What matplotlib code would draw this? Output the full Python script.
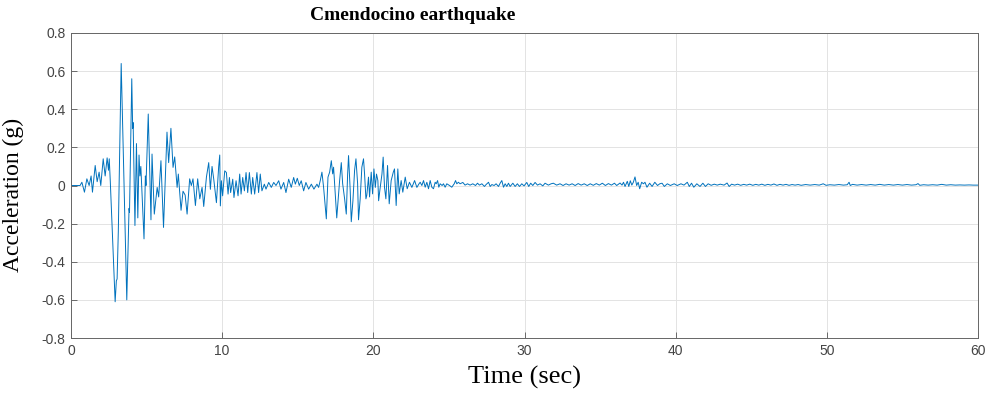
import numpy as np
import matplotlib
matplotlib.use("Agg")
import matplotlib.pyplot as plt

# ---- data (time in s, acceleration in g) ----
t_strong = [0.0, 0.6, 0.72, 0.89, 1.05, 1.20, 1.33, 1.42, 1.60, 1.73, 1.86, 1.97, 2.13, 2.26,
            2.39, 2.48, 2.53, 2.60, 2.92, 3.00, 3.05, 3.13, 3.32, 3.69, 3.84, 3.87, 4.02, 4.08,
            4.11, 4.23, 4.33, 4.42, 4.50, 4.56, 4.62, 4.83, 4.92, 4.96, 5.11, 5.29, 5.36, 5.51,
            5.70, 5.80, 5.95, 6.12, 6.35, 6.46, 6.61, 6.75, 6.86, 7.02, 7.10, 7.28, 7.41, 7.55,
            7.68, 7.85, 7.96, 8.07, 8.23, 8.38, 8.52, 8.67, 8.78, 8.96, 9.11, 9.22, 9.33, 9.44,
            9.62, 9.77, 9.84, 9.88, 9.95]
a_strong = [0.0, 0.0, 0.017, -0.035, 0.035, 0.0, 0.05, -0.035, 0.105, 0.02, 0.07, 0.0, 0.14, 0.05,
            0.145, 0.08, 0.14, 0.02, -0.61, -0.50, -0.49, -0.24, 0.64, -0.60, -0.12, -0.14, 0.56, 0.30,
            0.33, -0.21, 0.22, -0.17, 0.16, 0.05, 0.10, -0.28, 0.05, 0.0, 0.375, -0.18, 0.165, -0.15,
            -0.01, -0.06, 0.13, -0.22, 0.28, 0.12, 0.30, 0.095, 0.15, -0.01, 0.06, -0.13, -0.03, -0.05,
            -0.15, 0.035, 0.0, 0.035, -0.105, 0.035, -0.07, -0.01, -0.11, 0.045, 0.12, -0.02, 0.10, 0.035,
            -0.09, 0.10, 0.16, -0.107, 0.025]

t_mid = [10.03, 10.17, 10.28, 10.39, 10.48, 10.56, 10.70, 10.78, 10.92, 11.05, 11.16, 11.25, 11.36,
         11.47, 11.58, 11.69, 11.80, 11.93, 12.02, 12.15, 12.30, 12.41, 12.52, 12.63, 12.79, 12.90,
         13.08, 13.25, 13.41, 13.56, 13.74, 13.89, 14.07, 14.22, 14.40, 14.57, 14.73, 14.84, 14.97,
         15.10, 15.23, 15.39, 15.54, 15.72, 15.90, 16.07, 16.27, 16.38, 16.49, 16.60, 16.71, 16.89,
         17.00, 17.11, 17.22, 17.31, 17.37, 17.58, 17.77, 17.88, 17.97, 18.10, 18.21, 18.30, 18.36,
         18.47, 18.54, 18.65, 18.76, 18.85, 18.96, 19.02, 19.13, 19.24, 19.35, 19.42, 19.51, 19.57,
         19.68, 19.75, 19.86, 19.95, 20.04, 20.13, 20.21, 20.30, 20.35, 20.43, 20.57, 20.65, 20.74,
         20.83, 20.94, 21.05, 21.18, 21.32, 21.40, 21.51, 21.62, 21.71, 21.84, 21.95, 22.11, 22.24,
         22.39, 22.55, 22.73, 22.88, 23.03]
a_mid = [-0.054, 0.077, 0.068, -0.045, 0.042, -0.037, 0.033, -0.063, 0.025, -0.054, 0.06, -0.045, 0.042,
         -0.028, 0.068, -0.037, 0.068, -0.045, 0.042, -0.045, 0.068, -0.037, 0.06, -0.028, 0.007, -0.019,
         0.016, -0.01, 0.016, 0.0, 0.025, -0.019, 0.016, -0.037, 0.033, -0.01, 0.042, 0.007, 0.038,
         0.0, 0.025, -0.028, 0.016, -0.019, 0.007, -0.019, 0.007, -0.01, 0.026, 0.07, -0.01, -0.175,
         0.044, 0.07, 0.13, 0.061, 0.096, -0.17, 0.026, 0.12, 0.01, -0.07, -0.15, 0.06, 0.157,
         -0.026, -0.19, -0.08, 0.08, 0.14, 0.01, -0.18, -0.07, 0.096, 0.14, 0.06, -0.07, -0.05,
         0.044, -0.06, 0.07, -0.044, 0.087, -0.01, 0.06, 0.026, -0.08, -0.026, 0.06, 0.149, -0.01,
         -0.07, 0.105, -0.096, 0.026, 0.07, 0.087, -0.105, 0.087, -0.044, 0.026, -0.035, 0.044, -0.017,
         0.017, -0.01, 0.026, -0.01, 0.01]

t_coda = [23.10, 23.21, 23.32, 23.43, 23.54, 23.65, 23.76, 23.87, 23.98, 24.09, 24.16, 24.25, 24.33,
          24.42, 24.55, 24.64, 24.75, 24.86, 25.04, 25.19, 25.35, 25.44, 25.52, 25.63, 25.74, 25.92,
          26.07, 26.23, 26.40, 26.58, 26.76, 26.89, 27.02, 27.18, 27.35, 27.46, 27.62, 27.73, 27.84,
          27.99, 28.12, 28.28, 28.39, 28.50, 28.61, 28.72, 28.83, 28.94, 29.05, 29.23, 29.38, 29.53,
          29.67, 29.82, 29.97, 30.15, 30.28, 30.41, 30.55, 30.70, 30.86, 31.03, 31.21, 31.36, 31.58,
          31.76, 31.91, 32.13, 32.35, 32.55, 32.75, 32.95, 33.15, 33.35, 33.55, 33.75, 33.95, 34.15,
          34.35, 34.55, 34.75, 34.95, 35.15, 35.35, 35.55, 35.75, 35.95, 36.1, 36.32, 36.45, 36.55,
          36.65, 36.8, 36.9, 37.0, 37.1, 37.2, 37.31, 37.42, 37.52, 37.62, 37.75, 37.87, 37.97, 38.1,
          38.28, 38.44, 38.62, 38.8, 38.95, 39.1, 39.25, 39.45, 39.65, 39.9, 40.1, 40.35, 40.55,
          40.77, 40.9, 41.05, 41.2, 41.4, 41.61, 41.8, 41.97, 42.15, 42.35, 42.55, 42.75, 42.95, 43.2,
          43.4, 43.54, 43.7, 43.9, 44.1, 44.3, 44.5, 44.7, 44.9, 45.1, 45.3, 45.5, 45.7, 45.9, 46.1,
          46.3, 46.5, 46.7, 46.9, 47.1, 47.3, 47.5, 47.7, 47.9, 48.1, 48.3, 48.6, 48.9, 49.2, 49.5,
          49.76, 49.95, 50.2, 50.5, 50.8, 51.1, 51.35, 51.47, 51.55, 51.7, 52.0, 52.3, 52.6, 52.9,
          53.2, 53.5, 53.8, 54.1, 54.4, 54.7, 55.0, 55.3, 55.6, 55.9, 56.03, 56.15, 56.4, 56.7, 57.0,
          57.3, 57.6, 57.9, 58.2, 58.5, 58.8, 59.1, 59.4, 59.7, 60.0]
a_coda = [0.017, 0.0, 0.026, -0.009, 0.017, -0.017, 0.026, -0.009, -0.017, 0.017, 0.009, 0.026, -0.009,
          0.009, 0.0, 0.009, -0.009, 0.009, 0.0, -0.009, 0.009, 0.026, 0.009, 0.017, 0.009, 0.016,
          0.002, 0.009, 0.002, 0.009, 0.0, 0.012, 0.002, 0.009, -0.005, 0.005, 0.017, -0.005, 0.005,
          0.0, 0.009, -0.005, 0.012, 0.026, -0.009, 0.009, -0.005, 0.012, -0.005, 0.012, -0.005, 0.009,
          -0.005, 0.009, -0.002, 0.016, -0.005, 0.012, 0.0, 0.016, 0.002, 0.009, -0.002, 0.012, 0.002,
          0.009, 0.012, 0.002, 0.009, 0.0, 0.009, 0.002, 0.009, 0.0, 0.01, 0.002, 0.009, 0.0,
          0.009, 0.001, 0.01, 0.002, 0.012, 0.0, 0.01, 0.002, 0.012, 0.0, 0.013, 0.002, 0.017,
          -0.005, 0.022, -0.005, 0.025, 0.002, 0.017, 0.045, 0.0, 0.017, -0.017, 0.017, 0.009, 0.017, -0.009,
          0.012, -0.005, 0.017, 0.0, 0.009, 0.012, -0.005, 0.009, 0.0, 0.009, 0.0, 0.009, 0.002,
          0.017, -0.005, 0.012, -0.009, 0.009, -0.005, 0.012, -0.005, 0.009, 0.001, 0.007, 0.002, 0.007, 0.002,
          0.013, -0.005, 0.007, 0.002, 0.007, 0.001, 0.006, 0.002, 0.007, 0.001, 0.006, 0.002, 0.007, 0.001, 0.006,
          0.002, 0.008, 0.001, 0.006, 0.002, 0.006, 0.001, 0.005, 0.002, 0.005, 0.001, 0.005, 0.002, 0.005, 0.002,
          0.009, 0.001, 0.004, 0.002, 0.005, 0.002, 0.004, 0.017, 0.0, 0.006, 0.002, 0.005, 0.002, 0.005,
          0.002, 0.006, 0.002, 0.005, 0.002, 0.005, 0.002, 0.005, 0.002, 0.004, 0.01, 0.001, 0.004, 0.002, 0.004,
          0.002, 0.006, 0.002, 0.004, 0.002, 0.003, 0.002, 0.003, 0.002, 0.002]

x_ticks = [0, 10, 20, 30, 40, 50, 60]
y_ticks = [-0.8, -0.6, -0.4, -0.2, 0, 0.2, 0.4, 0.6, 0.8]
y_tick_labels = ["-0.8", "-0.6", "-0.4", "-0.2", "0", "0.2", "0.4", "0.6", "0.8"]
title_text = "Cmendocino earthquake"
x_label = "Time (sec)"
y_label = "Acceleration (g)"

t = np.concatenate([t_strong, t_mid, t_coda])
a = np.concatenate([a_strong, a_mid, a_coda])

fig = plt.figure(figsize=(9.93, 3.97), dpi=100)
ax = fig.add_axes([71 / 993, 1 - 338 / 397, (978 - 71) / 993, (338 - 33) / 397])

ax.plot(t, a, color="#0072BD", lw=0.7)

ax.set_xlim(0, 60)
ax.set_ylim(-0.8, 0.8)
ax.set_xticks(x_ticks)
ax.set_yticks(y_ticks)
ax.set_yticklabels(y_tick_labels)
ax.grid(True, color="#e3e3e3", lw=0.7)
ax.set_axisbelow(True)

tick_font = ["Liberation Sans Narrow", "Liberation Sans", "DejaVu Sans"]
for lab in ax.get_xticklabels() + ax.get_yticklabels():
    lab.set_family(tick_font)
    lab.set_fontsize(10)
    lab.set_color("#444444")
ax.tick_params(direction="in", length=4, width=0.6, color="#555555", pad=4)
for s in ax.spines.values():
    s.set_color("#666666")
    s.set_linewidth(0.7)

fig.text(413 / 993, 1 - 15 / 397, title_text, family=["Liberation Serif"], fontweight="bold",
         fontsize=14, ha="center", va="center")
ax.set_xlabel(x_label, family=["Liberation Serif"], fontsize=19, labelpad=6)
ax.set_ylabel(y_label, family=["Liberation Serif"], fontsize=17)
ax.yaxis.set_label_coords(-0.052, 0.47)

fig.savefig("out.png", dpi=100)
